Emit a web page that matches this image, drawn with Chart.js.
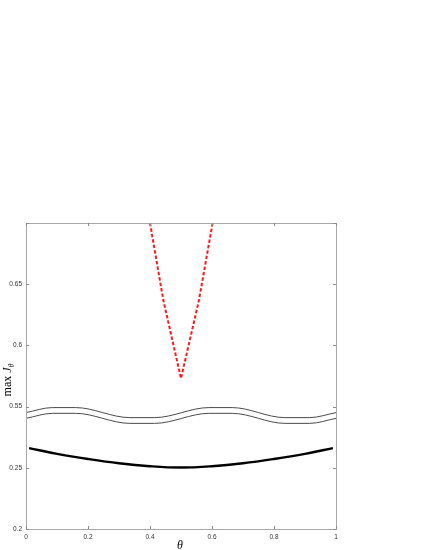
<!DOCTYPE html>
<html>
<head>
<meta charset="utf-8">
<script src="https://cdn.jsdelivr.net/npm/chart.js@4/dist/chart.umd.min.js"></script>
<style>
  html, body { margin: 0; padding: 0; background: #ffffff; }
  #c { display: block; }
</style>
</head>
<body>
<canvas id="c" width="425" height="550"></canvas>
<script>
// ---- data ----
const thetaBlack = [0.01, 0.1, 0.2, 0.3, 0.4, 0.5, 0.6, 0.7, 0.8, 0.9, 0.99];
const blackVals  = [0.2661, 0.2614, 0.2572, 0.2537, 0.2513, 0.2502, 0.2513, 0.2537, 0.2572, 0.2614, 0.2661];

const thetaWave  = [0, 0.085, 0.16, 0.335, 0.415, 0.59, 0.665, 0.835, 0.915, 1.0];
const waveUpper  = [0.5451, 0.5492, 0.5492, 0.5410, 0.5410, 0.5492, 0.5492, 0.5410, 0.5410, 0.5451];
const waveLower  = [0.5404, 0.5445, 0.5445, 0.5363, 0.5363, 0.5445, 0.5445, 0.5363, 0.5363, 0.5404];

const thetaRed   = [0.40, 0.443, 0.50, 0.558, 0.602];
const redVals    = [0.700, 0.637, 0.573, 0.637, 0.700];

const xTickLabels = ['0', '0.2', '0.4', '0.6', '0.8', '1'];
const yTickLabels = ['0.2', '0.25', '0.55', '0.6', '0.65', ''];

// broken y axis: lower segment starts at 0.2, upper segment starts at 0.55 (index 2)
const LOW_BASE = 0.2, HIGH_BASE = 0.55, STEP = 0.05, BREAK = 0.4;
function toAxis(v) {
  return v < BREAK ? (v - LOW_BASE) / STEP : 2 + (v - HIGH_BASE) / STEP;
}
function pts(xs, ys) { return xs.map((x, i) => ({ x: x, y: toAxis(ys[i]) })); }

const frame = {
  id: 'frame',
  afterDatasetsDraw(chart) {
    const { ctx, chartArea: a, scales } = chart;
    ctx.save();
    ctx.strokeStyle = '#a8a8a8';
    ctx.lineWidth = 1;
    ctx.strokeRect(Math.round(a.left) + 0.5, Math.round(a.top) + 0.5,
                   Math.round(a.right - a.left), Math.round(a.bottom - a.top));
    ctx.strokeStyle = '#8a8a8a';
    ctx.beginPath();
    const tl = 3;
    scales.y.ticks.forEach(t => {
      const y = Math.round(scales.y.getPixelForValue(t.value)) + 0.5;
      ctx.moveTo(a.left, y); ctx.lineTo(a.left + tl, y);
      ctx.moveTo(a.right, y); ctx.lineTo(a.right - tl, y);
    });
    scales.x.ticks.forEach(t => {
      const x = Math.round(scales.x.getPixelForValue(t.value)) + 0.5;
      ctx.moveTo(x, a.bottom); ctx.lineTo(x, a.bottom - tl);
      ctx.moveTo(x, a.top); ctx.lineTo(x, a.top + tl);
    });
    ctx.stroke();

    // axis titles
    ctx.fillStyle = '#000';
    ctx.textBaseline = 'alphabetic';
    ctx.font = 'italic 12px "Liberation Serif", "DejaVu Serif", serif';
    ctx.textAlign = 'center';
    ctx.fillText('θ', (a.left + a.right) / 2 - 1, 549);
    // y title (rotated)
    ctx.translate(11, 380);
    ctx.rotate(-Math.PI / 2);
    ctx.textAlign = 'left';
    const t1 = 'max ';
    ctx.font = '12px "Liberation Serif", serif';
    const w1 = ctx.measureText(t1).width;
    ctx.font = 'italic 12px "Liberation Serif", serif';
    const w2 = ctx.measureText('J').width;
    ctx.font = 'italic 8px "Liberation Serif", serif';
    const w3 = ctx.measureText('θ').width;
    let x0 = -(w1 + w2 + w3) / 2;
    ctx.font = '12px "Liberation Serif", serif';
    ctx.fillText(t1, x0, 0);
    ctx.font = 'italic 12px "Liberation Serif", serif';
    ctx.fillText('J', x0 + w1, 0);
    ctx.font = 'italic 8px "Liberation Serif", serif';
    ctx.fillText('θ', x0 + w1 + w2, 3);
    ctx.restore();
  }
};

new Chart(document.getElementById('c'), {
  type: 'line',
  data: {
    datasets: [
      { data: pts(thetaWave, waveUpper), borderColor: '#4a4a4a', borderWidth: 1,
        pointRadius: 0, cubicInterpolationMode: 'monotone', fill: false },
      { data: pts(thetaWave, waveLower), borderColor: '#4a4a4a', borderWidth: 1,
        pointRadius: 0, cubicInterpolationMode: 'monotone', fill: false },
      { data: pts(thetaBlack, blackVals), borderColor: '#000000', borderWidth: 2.4,
        pointRadius: 0, tension: 0.4, fill: false },
      { data: pts(thetaRed, redVals), borderColor: '#ff1a1a', borderWidth: 2,
        borderDash: [3.5, 2], pointRadius: 0, tension: 0, fill: false }
    ]
  },
  options: {
    responsive: false,
    animation: false,
    events: [],
    layout: { padding: { top: 223, right: 89, left: 0, bottom: 0 } },
    plugins: { legend: { display: false }, tooltip: { enabled: false }, title: { display: false } },
    scales: {
      x: {
        type: 'linear', min: 0, max: 1,
        afterFit: s => { s.height = 21; },
        grid: { display: false, drawTicks: false },
        border: { display: false },
        ticks: {
          stepSize: 0.2, padding: 4, maxRotation: 0,
          color: '#333', font: { family: '"Liberation Sans", Arial, sans-serif', size: 6.5 },
          callback: (v, i) => xTickLabels[i]
        }
      },
      y: {
        type: 'linear', min: 0, max: 5,
        afterFit: s => { s.width = 26; },
        grid: { display: false, drawTicks: false },
        border: { display: false },
        ticks: {
          stepSize: 1, padding: 4,
          color: '#333', font: { family: '"Liberation Sans", Arial, sans-serif', size: 6.5 },
          callback: (v) => yTickLabels[v]
        }
      }
    }
  },
  plugins: [frame]
});
</script>
</body>
</html>
